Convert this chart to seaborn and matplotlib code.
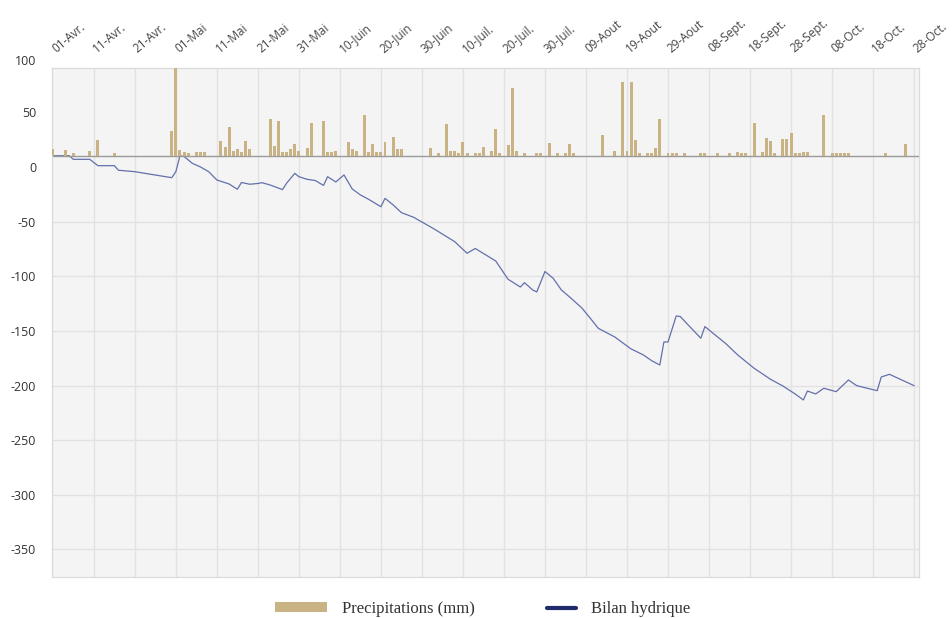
import numpy as np
import matplotlib
matplotlib.use("Agg")
import matplotlib.pyplot as plt
import matplotlib.transforms as mtransforms
import seaborn as sns
from matplotlib.patches import Patch
from matplotlib.lines import Line2D
from matplotlib.legend_handler import HandlerLine2D

# ---- data -------------------------------------------------------------
# day index counted from 1 April
tick_days = list(range(0, 211, 10))
tick_labels = ["01-Avr.", "11-Avr.", "21-Avr.", "01-Mai", "11-Mai", "21-Mai",
               "31-Mai", "10-Juin", "20-Juin", "30-Juin", "10-Juil.", "20-Juil.",
               "30-Juil.", "09-Aout", "19-Aout", "29-Aout", "08-Sept.", "18-Sept.",
               "28-Sept.", "08-Oct.", "18-Oct.", "28-Oct."]

precip_day = [0, 3, 5, 9, 11, 15, 29, 30, 31, 32, 33, 35, 36, 37, 41, 42, 43, 44,
              45, 46, 47, 48, 53, 54, 55, 56, 57, 58, 59, 60, 62, 63, 66, 67, 68,
              69, 72, 73, 74, 76, 77, 78, 79, 80, 81, 83, 84, 85, 92, 94, 96, 97,
              98, 99, 100, 101, 103, 104, 105, 107, 108, 109, 111, 112, 113, 115,
              118, 119, 121, 123, 125, 126, 127, 134, 137, 139, 140, 141, 142, 143,
              145, 146, 147, 148, 150, 151, 152, 154, 158, 159, 162, 165, 167, 168,
              169, 171, 173, 174, 175, 176, 178, 179, 180, 181, 182, 183, 184, 188,
              190, 191, 192, 193, 194, 203, 208]
precip_mm = [7.5, 7, 3, 5.5, 18, 3, 28.5, 100, 7, 4, 3, 4, 4, 4, 17, 10.5, 33, 5.5,
             8, 4, 16.5, 7.5, 42, 11, 40, 4, 4, 8, 14, 5.5, 9, 37.5, 40, 4, 4,
             6, 16, 8, 6, 46, 4, 14, 5, 5, 16, 21, 7.5, 7.5, 9, 3, 36, 6,
             6, 3, 16, 3, 3.5, 3.5, 10.5, 5.5, 30.5, 3, 13, 77, 5.5, 3,
             3.5, 3.5, 15, 3, 3, 14, 3.5, 23.5, 5.5, 84, 6, 84, 18, 3,
             3, 3, 9, 42, 3, 3, 3, 3, 3, 3, 3, 3, 5, 3.5,
             3.5, 37.5, 5, 20, 17.5, 3, 19, 19, 26.5, 3.5, 3.5, 4, 5, 46,
             3.5, 3.5, 3.5, 3.5, 3.5, 3, 13.5]

bilan_day = [0, 4, 5, 9, 11, 15, 16, 20, 29, 30, 31, 32, 34, 36, 38, 40, 43, 45,
             46, 48, 50, 51, 53, 56, 57, 59, 60, 62, 64, 66, 67, 69, 71, 73, 75,
             77, 80, 81, 83, 85, 88, 93, 98, 101, 103, 106, 108, 111, 114, 115,
             117, 118, 120, 122, 124, 126, 129, 131, 133, 137, 141, 144, 146, 148,
             149, 150, 152, 153, 154, 158, 159, 161, 164, 167, 171, 175, 178, 181,
             183, 184, 186, 188, 191, 194, 196, 201, 202, 204, 210]
bilan_val = [10.4, 10.4, 7.1, 7.1, 1.3, 1.3, -2.9, -4.2, -9.7, -4.2, 10.4, 9.7,
             3.5, 0.1, -4.2, -11.8, -15.5, -20.3, -14.1, -15.7, -15.0, -14.3,
             -16.4, -20.6, -14.8, -5.7, -8.8, -11.2, -12.3, -16.8, -8.8, -13.6,
             -7.2, -20.0, -25.5, -29.5, -36.3, -28.6, -34.7, -41.7, -46.0, -56.7,
             -68.3, -78.9, -74.5, -81.4, -86.0, -102.7, -109.8, -105.8, -112.5,
             -114.3, -95.6, -101.8, -112.5, -118.9, -129.0, -138.2, -147.6,
             -155.5, -166.5, -172.0, -177.2, -181.2, -160.1, -160.1, -136.3,
             -136.8, -140.9, -156.7, -146.0, -152.2, -161.3, -172.0, -184.2,
             -194.3, -200.4, -207.7, -213.2, -205.0, -207.7, -202.5, -205.6,
             -194.9, -200.1, -204.7, -192.2, -189.7, -200.1]

y_ticks = [100, 50, 0, -50, -100, -150, -200, -250, -300, -350]

# ---- style ------------------------------------------------------------
sns.set_style("white")
plt.rcParams["font.family"] = ["Open Sans", "DejaVu Sans"]
plt.rcParams["axes.unicode_minus"] = False

BAR_COLOR = "#c9b283"
LINE_COLOR = "#6470aa"
LEGEND_LINE = "#1f2b6b"
GRID = "#e2e2e2"
TEXT = "#333333"

fig = plt.figure(figsize=(9.52, 6.18), dpi=100)
W, H = 952, 618
left, right, top, bottom = 52, 919, 67.7, 577
ax = fig.add_axes([left / W, 1 - bottom / H, (right - left) / W, (bottom - top) / H])
ax.set_facecolor("#f4f4f4")

# water balance on the main axis
sns.lineplot(x=bilan_day, y=bilan_val, ax=ax, color=LINE_COLOR, linewidth=0.9,
             zorder=4)
ax.set_ylim(-375.3, 91)
ax.set_xlim(-0.2, 211.2)

# precipitation bars on a twin axis with its own scale
ax2 = ax.twinx()
sns.barplot(x=precip_day, y=precip_mm, ax=ax2, native_scale=True, width=0.72,
            color=BAR_COLOR, saturation=1, errorbar=None, linewidth=0, zorder=3)
ax2.set_ylim(-476.8, 100)
ax2.set_xlim(-0.2, 211.2)
ax2.axhline(0, color="#9a9a9a", linewidth=1.0, zorder=2)

# grid
for d in tick_days[1:]:
    ax.axvline(d, color=GRID, linewidth=1.0, zorder=0)
for t in y_ticks:
    if t <= -50:
        ax.axhline(t, color=GRID, linewidth=1.0, zorder=0)

# axis ticks & labels
main_ticks = [t for t in y_ticks if t <= 91]
ax.set_yticks(main_ticks)
ax.set_yticklabels([str(t) for t in main_ticks])
ax.tick_params(axis="y", length=0, pad=11.5, labelsize=9, labelcolor=TEXT)
ax2.yaxis.tick_left()
ax2.set_yticks([t for t in y_ticks if t > 91])
ax2.set_yticklabels([str(t) for t in y_ticks if t > 91])
ax2.tick_params(axis="y", length=0, pad=11.5, labelsize=9, labelcolor=TEXT)
for lbl in ax2.get_yticklabels():
    lbl.set_va("bottom")
ax.set_ylabel("")
ax2.set_ylabel("")
ax.set_xlabel("")

ax.xaxis.tick_top()
ax.tick_params(axis="x", length=0, pad=9, labelcolor="#444444")
ax.set_xticks(tick_days)
ax.set_xticklabels(tick_labels, rotation=40, ha="left", va="bottom",
                   rotation_mode="anchor", fontsize=8.5)
shift = mtransforms.ScaledTranslation(5 / 100, 0, fig.dpi_scale_trans)
for lbl in ax.get_xticklabels():
    lbl.set_transform(lbl.get_transform() + shift)

for a in (ax, ax2):
    for s in a.spines.values():
        s.set_color("#dadada")
        s.set_linewidth(0.8)


class ShortLineHandler(HandlerLine2D):
    def get_xdata(self, legend, xdescent, ydescent, width, height, fontsize):
        x0 = -xdescent + 0.42 * width
        x1 = -xdescent + width
        return np.array([x0, x1]), np.array([(x0 + x1) / 2])


handles = [Patch(facecolor=BAR_COLOR, edgecolor="none"),
           Line2D([0], [0], color=LEGEND_LINE, linewidth=3)]
leg = fig.legend(handles, ["Precipitations (mm)", "Bilan hydrique"],
                 loc="center", bbox_to_anchor=(483 / W, 1 - 609 / H), ncol=2,
                 frameon=False, handlelength=3.1, handleheight=0.55,
                 handletextpad=0.9, columnspacing=3.0,
                 prop={"family": "Liberation Serif", "size": 12},
                 handler_map={handles[1]: ShortLineHandler()})
for t in leg.get_texts():
    t.set_color(TEXT)

fig.savefig("out.png", dpi=100, facecolor="white")
